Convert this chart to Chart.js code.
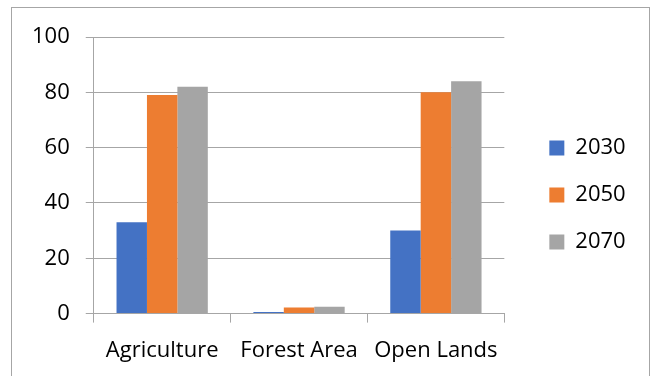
<!DOCTYPE html>
<html><head><meta charset="utf-8">
<script src="https://cdn.jsdelivr.net/npm/chart.js@4.4.1/dist/chart.umd.min.js"></script>
<style>html,body{margin:0;padding:0;background:#fff}#wrap{width:657px;height:376px;position:relative}</style>
</head><body><div id="wrap"><canvas id="c" width="657" height="376"></canvas></div>
<script>
const categories = ["Agriculture", "Forest Area", "Open Lands"];
const seriesNames = ["2030", "2050", "2070"];
const values2030 = [33, 0.6, 30];
const values2050 = [79, 2.2, 80];
const values2070 = [82, 2.5, 84];
const yTicks = [0, 20, 40, 60, 80, 100];
const colors = ["#4472C4", "#ED7D31", "#A5A5A5"];

const frame = {
  id: 'frame',
  beforeDraw(chart) {
    const ctx = chart.ctx;
    ctx.save();
    ctx.fillStyle = '#fff';
    ctx.fillRect(0, 0, chart.width, chart.height);
    ctx.strokeStyle = '#a6a6a6';
    ctx.lineWidth = 1;
    ctx.strokeRect(11.5, 7.5, 638, 380);
    ctx.restore();
  }
};

const font = "'Open Sans', sans-serif";
new Chart(document.getElementById('c'), {
  type: 'bar',
  data: {
    labels: categories,
    datasets: [values2030, values2050, values2070].map((v, i) => ({
      label: seriesNames[i], data: v, backgroundColor: colors[i],
      categoryPercentage: 0.667, barPercentage: 1.0
    }))
  },
  options: {
    responsive: false, animation: false,
    layout: { padding: { left: 16, top: 37, right: 31, bottom: 0 } },
    plugins: {
      tooltip: { enabled: false },
      legend: {
        position: 'right',
        align: 'start',
        title: { display: true, text: '', font: { size: 10 }, padding: { top: 63, bottom: 0 } },
        labels: { font: { family: font, size: 22 }, color: '#000', boxWidth: 15, boxHeight: 15, padding: 25 }
      }
    },
    scales: {
      x: {
        grid: { display: true, drawOnChartArea: false, drawTicks: true, tickLength: 9, color: '#a6a6a6', offset: true },
        border: { color: '#a6a6a6' },
        ticks: { font: { family: font, size: 22 }, color: '#000', padding: 15, maxRotation: 0, autoSkip: false },
        afterFit(scale) { scale.height -= 3; }
      },
      y: {
        min: 0, max: 100,
        afterBuildTicks(axis) { axis.ticks = yTicks.map(v => ({ value: v })); },
        grid: { color: '#a6a6a6', drawTicks: true, tickLength: 8 },
        border: { color: '#a6a6a6' },
        ticks: { font: { family: font, size: 22 }, color: '#000', padding: 16 }
      },
      gap: {
        position: 'right', display: true,
        grid: { display: false }, border: { display: false }, ticks: { display: false },
        afterFit(scale) { scale.width = 20; }
      }
    }
  },
  plugins: [frame]
});
</script></body></html>
